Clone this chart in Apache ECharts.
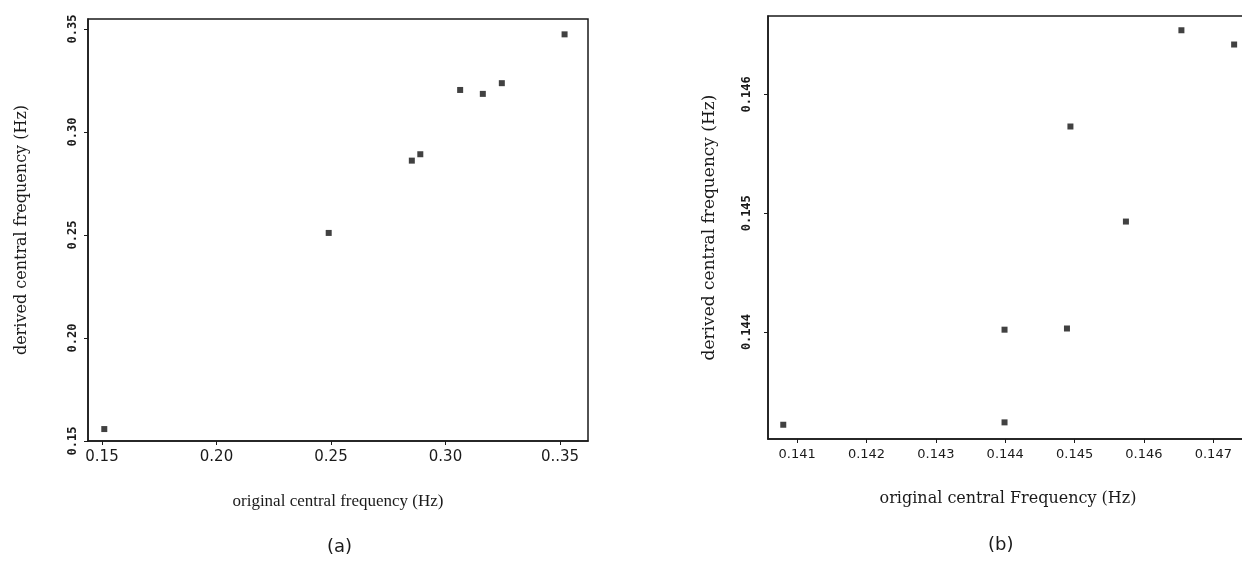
<!DOCTYPE html>
<html>
<head>
<meta charset="utf-8">
<script src="https://cdn.jsdelivr.net/npm/echarts@6/dist/echarts.min.js"></script>
<style>
  html, body { margin: 0; padding: 0; background: #fff; }
  #chart { width: 1242px; height: 571px; }
</style>
</head>
<body>
<div id="chart"></div>
<script>
// Panel (a): wide band of central frequencies
const origA    = [0.151, 0.249, 0.2853, 0.289, 0.3064, 0.3163, 0.3246, 0.352];
const derivedA = [0.1558, 0.251, 0.2861, 0.2892, 0.3204, 0.3185, 0.3237, 0.3474];
const xTicksA  = [0.15, 0.20, 0.25, 0.30, 0.35];
const xLabelsA = ['0.15', '0.20', '0.25', '0.30', '0..35'];
const yTicksA  = [0.15, 0.20, 0.25, 0.30, 0.35];
const yLabelsA = ['0.15', '0.20', '0.25', '0.30', '0.35'];

// Panel (b): narrow band around 0.144 Hz
const origB    = [0.1408, 0.14399, 0.14399, 0.14489, 0.14494, 0.14574, 0.14654, 0.1473];
const derivedB = [0.14322, 0.14324, 0.14402, 0.14403, 0.14573, 0.14493, 0.14654, 0.14642];
const xTicksB  = [0.141, 0.142, 0.143, 0.144, 0.145, 0.146, 0.147];
const xLabelsB = ['0.141', '0.142', '0.143', '0.144', '0.145', '0.146', '0.147'];
const yTicksB  = [0.144, 0.145, 0.146];
const yLabelsB = ['0.144', '0.145', '0.146'];

const ink = '#1a1a1a';
const pairs = (xs, ys) => xs.map((x, i) => [x, ys[i]]);
const labelMap = (ticks, labels) => v => {
  const i = ticks.findIndex(t => Math.abs(t - v) < 1e-9);
  return i < 0 ? '' : labels[i];
};

function xAxis(gridIndex, min, max, ticks, labels, name, nameFont, nameSize, nameGap, labelSize) {
  return {
    type: 'value', gridIndex, min, max, name, nameLocation: 'middle', nameGap,
    nameTextStyle: { fontFamily: nameFont, fontSize: nameSize, color: ink },
    axisLine: { show: true, onZero: false, lineStyle: { color: ink, width: 1.5 } },
    axisTick: { show: true, customValues: ticks, length: 4, lineStyle: { color: ink } },
    axisLabel: { customValues: ticks, formatter: labelMap(ticks, labels), margin: 9,
      fontFamily: 'DejaVu Sans', fontSize: labelSize, color: ink },
    splitLine: { show: false }
  };
}
function yAxis(gridIndex, min, max, ticks, labels, name, nameSize, nameGap, margin) {
  return {
    type: 'value', gridIndex, min, max, name, nameLocation: 'middle', nameGap,
    nameTextStyle: { fontFamily: 'DejaVu Serif', fontSize: nameSize, color: ink },
    axisLine: { show: true, onZero: false, lineStyle: { color: ink, width: 1.5 } },
    axisTick: { show: true, customValues: ticks, length: 4, lineStyle: { color: ink } },
    axisLabel: { customValues: ticks, formatter: labelMap(ticks, labels), rotate: 90, margin,
      fontFamily: 'DejaVu Sans Mono', fontWeight: 'bold', fontSize: 12, color: ink },
    splitLine: { show: false }
  };
}

const chart = echarts.init(document.getElementById('chart'), null, { renderer: 'canvas' });
chart.setOption({
  backgroundColor: '#ffffff',
  animation: false,
  grid: [
    { left: 88, top: 19, width: 500, height: 422, show: true, borderColor: ink, borderWidth: 1.5,
      outerBoundsMode: 'none' },
    { left: 768, top: 16, width: 480, height: 423, show: true, borderColor: ink, borderWidth: 1.5,
      outerBoundsMode: 'none' }
  ],
  xAxis: [
    xAxis(0, 0.14389, 0.36223, xTicksA, xLabelsA, 'original central frequency (Hz)', 'Liberation Serif', 17, 52, 15),
    xAxis(1, 0.14058, 0.1475, xTicksB, xLabelsB, 'original central Frequency (Hz)', 'DejaVu Serif', 16, 52, 13)
  ],
  yAxis: [
    yAxis(0, 0.15, 0.35485, yTicksA, yLabelsA, 'derived central frequency (Hz)', 16, 58, 9),
    yAxis(1, 0.1431, 0.14666, yTicksB, yLabelsB, 'derived central frequency (Hz)', 17, 50, 15)
  ],
  series: [
    { type: 'scatter', xAxisIndex: 0, yAxisIndex: 0, data: pairs(origA, derivedA),
      symbol: 'rect', symbolSize: 6, itemStyle: { color: '#111' } },
    { type: 'scatter', xAxisIndex: 1, yAxisIndex: 1, data: pairs(origB, derivedB),
      symbol: 'rect', symbolSize: 6, itemStyle: { color: '#111' } }
  ],
  graphic: [
    { type: 'text', left: 327, top: 538, style: { text: '(a)', font: '18px "DejaVu Sans"', fill: ink } },
    { type: 'text', left: 988, top: 536, style: { text: '(b)', font: '18px "DejaVu Sans"', fill: ink } }
  ]
});
</script>
</body>
</html>
